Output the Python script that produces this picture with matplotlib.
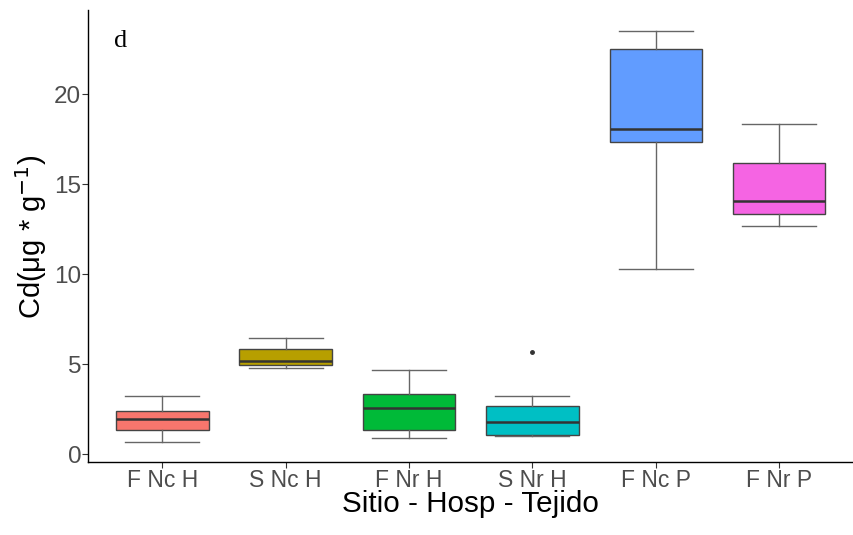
import matplotlib
matplotlib.use('Agg')
import matplotlib.pyplot as plt

# group labels and box statistics (whisker low, q1, median, q3, whisker high)
groups = ['F Nc H', 'S Nc H', 'F Nr H', 'S Nr H', 'F Nc P', 'F Nr P']
whis_lo = [0.67, 4.78, 0.89, 1.00, 10.27, 12.66]
q1 = [1.33, 4.97, 1.33, 1.06, 17.37, 13.37]
medians = [1.95, 5.19, 2.54, 1.78, 18.08, 14.05]
q3 = [2.41, 5.82, 3.32, 2.65, 22.54, 16.20]
whis_hi = [3.23, 6.47, 4.67, 3.24, 23.55, 18.37]
outliers = [[], [], [], [5.69], [], []]
fills = ['#F8766D', '#B79F00', '#00BA38', '#00BFC4', '#619CFF', '#F564E3']

plt.rcParams['font.family'] = ['Liberation Sans', 'DejaVu Sans']

stats = []
for i, g in enumerate(groups):
  stats.append({'label': g, 'whislo': whis_lo[i], 'q1': q1[i], 'med': medians[i],
                'q3': q3[i], 'whishi': whis_hi[i], 'fliers': outliers[i]})

fig = plt.figure(figsize=(8.54, 5.35), dpi=100)
ax = fig.add_axes([0.1034, 0.1359, 0.8956, 0.8454])
pos = list(range(1, len(groups) + 1))
bp = ax.bxp(stats, positions=pos, widths=0.75, capwidths=0.6, patch_artist=True,
            boxprops=dict(edgecolor='#444444', linewidth=1.0),
            medianprops=dict(color='#333333', linewidth=1.8),
            whiskerprops=dict(color='#666666', linewidth=1.0),
            capprops=dict(color='#666666', linewidth=1.0),
            flierprops=dict(marker='o', markersize=2.5, markerfacecolor='#333333',
                            markeredgecolor='#333333'))
for box, c in zip(bp['boxes'], fills):
  box.set_facecolor(c)

ax.set_xlim(0.4, 6.6)
ax.set_ylim(-0.46, 24.69)
ax.set_yticks([0, 5, 10, 15, 20])
ax.set_xticks(pos)
ax.set_xticklabels(groups)
for s in ['top', 'right']:
  ax.spines[s].set_visible(False)
for s in ['left', 'bottom']:
  ax.spines[s].set_color('black')
  ax.spines[s].set_linewidth(1.0)
ax.tick_params(axis='y', colors='#333333', labelcolor='#4D4D4D', labelsize=17.5,
               length=4, width=0.8, pad=1)
ax.tick_params(axis='x', colors='#333333', labelcolor='#4D4D4D', labelsize=16.5,
               length=4, width=0.8, pad=0.5)
ax.set_xlabel('Sitio - Hosp - Tejido', fontsize=21.3, labelpad=-1, color='black')
ax.set_ylabel('Cd(μg * g$^{-1}$)', fontsize=21, labelpad=4, color='black')
ax.text(0.034, 0.931, 'd', transform=ax.transAxes, fontsize=19,
        family='Liberation Serif', va='center', ha='left')

fig.savefig('out.png', dpi=100)
